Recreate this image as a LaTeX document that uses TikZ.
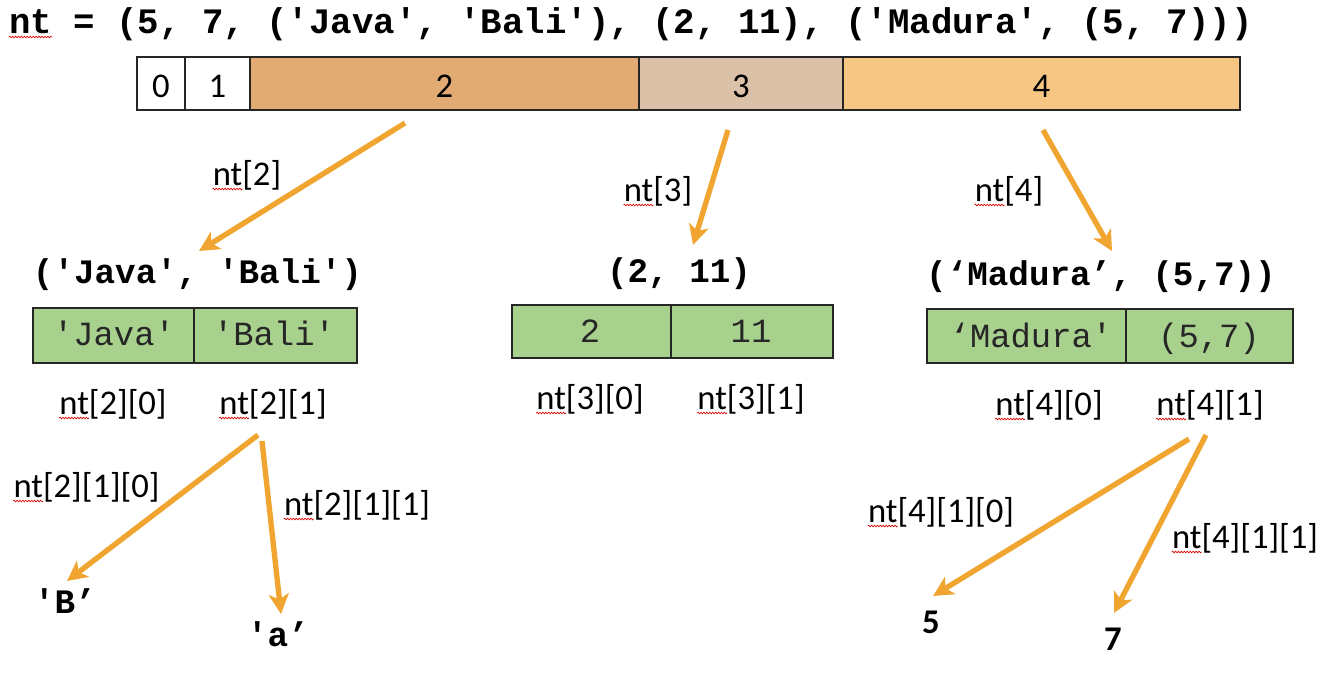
\documentclass[tikz,border=0pt]{standalone}
\usepackage{fontspec}
\setmainfont{Carlito}
\newfontfamily\cmono{Liberation Mono}
\usetikzlibrary{arrows.meta,decorations.pathmorphing}
\newcommand\sqt{\textquotesingle}
\definecolor{arrowor}{HTML}{F0A530}
\definecolor{cellA}{HTML}{E2AB74}
\definecolor{cellB}{HTML}{DAC1A7}
\definecolor{cellC}{HTML}{F6C683}
\definecolor{cellG}{HTML}{A9D18E}
\begin{document}
\begin{tikzpicture}[x=0.75pt,y=-0.75pt,
  boxline/.style={draw=black!85, line width=1.1pt},
  lab/.style={font=\fontsize{26}{30}\selectfont, anchor=base, inner sep=0pt},
  head/.style={font=\cmono\bfseries\fontsize{25.7}{30}\selectfont, anchor=base, inner sep=0pt},
  celltxt/.style={font=\cmono\fontsize{25.4}{30}\selectfont, anchor=base, inner sep=0pt, text=black!85},
  res/.style={font=\bfseries\fontsize{26}{30}\selectfont, anchor=base, inner sep=0pt},
  arr/.style={draw=arrowor, line width=4pt, -{Stealth[length=15pt, width=15pt, inset=4pt]}},
  squig/.style={draw=red!85!black, line width=0.5pt, decorate, decoration={snake, segment length=2.2pt, amplitude=0.6pt}}
]
\useasboundingbox (0,0) rectangle (1332,672);

% title
\node[font=\cmono\bfseries\fontsize{26.8}{30}\selectfont, anchor=base, inner sep=0pt] (title) at (631,33)
  {nt = (5, 7, (\sqt Java\sqt, \sqt Bali\sqt), (2, 11), (\sqt Madura\sqt, (5, 7)))};

% top bar
\path[boxline, fill=white] (137,57) rectangle (185,110);
\path[boxline, fill=white] (185,57) rectangle (250,110);
\path[boxline, fill=cellA] (250,57) rectangle (639,110);
\path[boxline, fill=cellB] (639,57) rectangle (843,110);
\path[boxline, fill=cellC] (843,57) rectangle (1240,110);
\node[lab] (c0) at (161,97) {0};
\node[lab] (c1) at (217.5,97) {1};
\node[lab] (c2) at (444.5,97) {2};
\node[lab] (c3) at (741,97) {3};
\node[lab] (c4) at (1041.5,97) {4};

% arrow start/end coordinates
\coordinate (s2) at (405,123);
\coordinate (t2) at (199,251);
\coordinate (s3) at (728,130);
\coordinate (t3) at (693,245);
\coordinate (s4) at (1043,130);
\coordinate (t4) at (1112,251);

\draw[arr] (s2) -- (t2);
\draw[arr] (s3) -- (t3);
\draw[arr] (s4) -- (t4);

\node[lab] (l2) at (247,185) {nt[2]};
\node[lab] (l3) at (658,201) {nt[3]};
\node[lab] (l4) at (1009,201) {nt[4]};

% headings
\node[head] (hjava) at (197.5,283) {(\sqt Java\sqt, \sqt Bali\sqt)};
\node[head] (h211) at (679,282) {(2, 11)};
\node[head] (hmad) at (1101,285) {(\textquoteleft Madura\textquoteright, (5,7))};

% tuple boxes
\path[boxline, fill=cellG] (33,308) rectangle (194,363);
\path[boxline, fill=cellG] (194,308) rectangle (357,363);
\path[boxline, fill=cellG] (512,305) rectangle (671,358);
\path[boxline, fill=cellG] (671,305) rectangle (833,358);
\path[boxline, fill=cellG] (927,309) rectangle (1126,363);
\path[boxline, fill=cellG] (1126,309) rectangle (1293,363);

\node[celltxt] (vjava) at (114,345) {\sqt Java\sqt};
\node[celltxt] (vbali) at (274,345) {\sqt Bali\sqt};
\node[celltxt] (v2) at (590,342) {2};
\node[celltxt] (v11) at (751,342) {11};
\node[celltxt] (vmad) at (1031,347) {\textquoteleft Madura\sqt};
\node[celltxt] (v57) at (1209,347) {(5,7)};

% index labels
\node[lab] (i20) at (113,414) {nt[2][0]};
\node[lab] (i21) at (273,414) {nt[2][1]};
\node[lab] (i30) at (590,409) {nt[3][0]};
\node[lab] (i31) at (751,409) {nt[3][1]};
\node[lab] (i40) at (1049,415) {nt[4][0]};
\node[lab] (i41) at (1210,415) {nt[4][1]};

% lower arrows
\coordinate (s210) at (258,435);
\coordinate (t210) at (67,581);
\coordinate (s211) at (262,441);
\coordinate (t211) at (281,614);
\coordinate (s410) at (1189,439);
\coordinate (t410) at (933,596);
\coordinate (s411) at (1206,435);
\coordinate (t411) at (1114,613);
\draw[arr] (s210) -- (t210);
\draw[arr] (s211) -- (t211);
\draw[arr] (s410) -- (t410);
\draw[arr] (s411) -- (t411);

\node[lab] (i210) at (86.5,497) {nt[2][1][0]};
\node[lab] (i211) at (357,515) {nt[2][1][1]};
\node[lab] (i410) at (941,522) {nt[4][1][0]};
\node[lab] (i411) at (1245,548) {nt[4][1][1]};

% spell-check underlines
\draw[squig] ([yshift=-3pt]title.base west) -- ++(43,0);
\foreach \n in {l2,l3,l4,i20,i21,i30,i31,i40,i41,i210,i211,i410,i411}
  \draw[squig] ([yshift=-3pt]\n.base west) -- ++(30,0);

% results
\node[head] (rB) at (65,613) {\sqt B\textquoteright};
\node[head] (ra) at (278,646) {\sqt a\textquoteright};
\node[res] (r5) at (931,633) {5};
\node[res] (r7) at (1113,650) {7};
\end{tikzpicture}
\end{document}
